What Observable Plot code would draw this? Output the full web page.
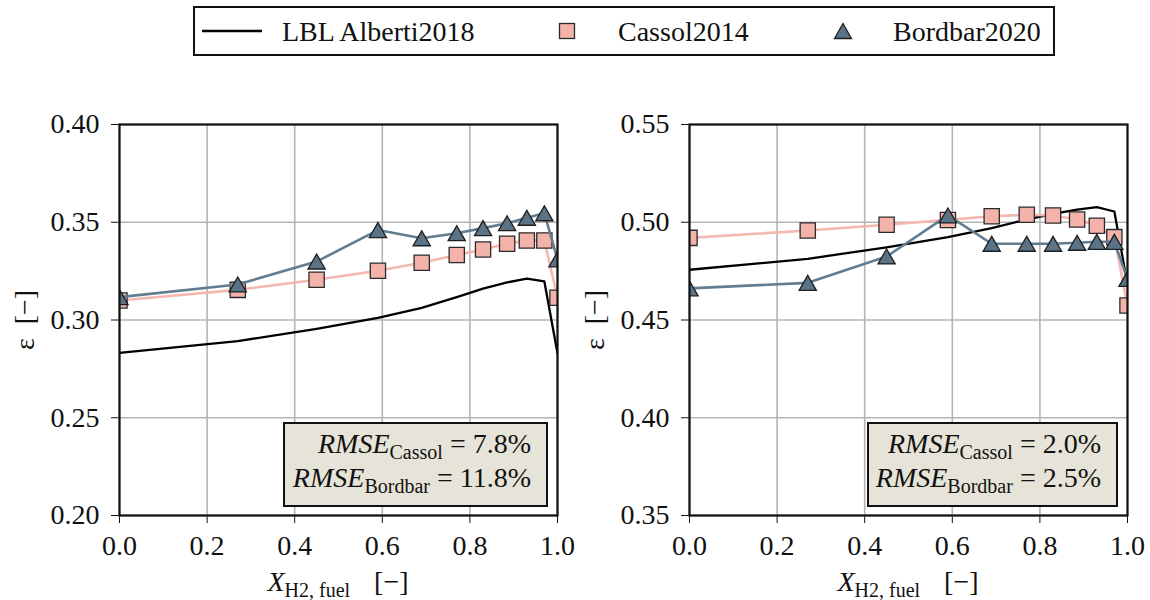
<!DOCTYPE html>
<html><head><meta charset="utf-8">
<script src="https://cdn.jsdelivr.net/npm/d3@7"></script>
<script src="https://cdn.jsdelivr.net/npm/@observablehq/plot@0.6"></script>
<style>
body{margin:0;font-family:"Liberation Serif","FreeSerif","STIX Two Text","Tinos","Times New Roman",serif;}
</style></head>
<body>
<script>
// ---- data ----
const xH2 = [0, 0.27, 0.45, 0.59, 0.69, 0.77, 0.83, 0.885, 0.93, 0.97, 1.0];
const lblLeft     = [0.2832, 0.2892, 0.2955, 0.3011, 0.3062, 0.3117, 0.3160, 0.3192, 0.3212, 0.3197, 0.2830];
const cassolLeft  = [0.3100, 0.3154, 0.3206, 0.3252, 0.3293, 0.3332, 0.3361, 0.3390, 0.3407, 0.3407, 0.3114];
const bordbarLeft = [0.3117, 0.3182, 0.3299, 0.3460, 0.3418, 0.3444, 0.3470, 0.3495, 0.3523, 0.3546, 0.3310];
const lblRight     = [0.4757, 0.4813, 0.4872, 0.4924, 0.4970, 0.5014, 0.5043, 0.5065, 0.5077, 0.5055, 0.4680];
const cassolRight  = [0.4920, 0.4958, 0.4987, 0.5012, 0.5031, 0.5038, 0.5035, 0.5014, 0.4982, 0.4924, 0.4574];
const bordbarRight = [0.4662, 0.4690, 0.4825, 0.5035, 0.4890, 0.4890, 0.4890, 0.4895, 0.4900, 0.4900, 0.4710];
const xTicks = [0, 0.2, 0.4, 0.6, 0.8, 1.0];
const yTicksLeft  = [0.20, 0.25, 0.30, 0.35, 0.40];
const yTicksRight = [0.35, 0.40, 0.45, 0.50, 0.55];
const seriesNames = ["LBL Alberti2018", "Cassol2014", "Bordbar2020"];
const rmseLeft  = ["7.8%", "11.8%"];
const rmseRight = ["2.0%", "2.5%"];

const C_LINE = "#f5b8b0", C_FILL = "#f3b3aa", B_LINE = "#627c90", B_FILL = "#5a7387";
const FF = '"Liberation Serif", "FreeSerif", "STIX Two Text", "Tinos", "Times New Roman", serif';

function rows(lbl, cas, bor) {
  return xH2.map((x, i) => ({x, lbl: lbl[i], cas: cas[i], bor: bor[i]}));
}

function makePlot(data, yTicks, ml, mr) {
  const svg = Plot.plot({
    width: 575, height: 530,
    marginLeft: ml, marginRight: mr, marginTop: 54, marginBottom: 85,
    style: {fontFamily: FF, fontSize: "28px", color: "#111", background: "transparent"},
    x: {domain: [0, 1], ticks: xTicks, tickFormat: d3.format(".1f"), tickSize: 8, tickPadding: 12, label: null},
    y: {domain: [yTicks[0], yTicks[yTicks.length - 1]], ticks: yTicks, tickFormat: d3.format(".2f"), tickSize: 8, tickPadding: 12, label: null},
    marks: [
      Plot.ruleX(xTicks, {stroke: "#b4b4b4", strokeWidth: 1.6}),
      Plot.ruleY(yTicks, {stroke: "#b4b4b4", strokeWidth: 1.6}),
      Plot.line(data, {x: "x", y: "lbl", stroke: "#000", strokeWidth: 2.3, clip: true}),
      Plot.line(data, {x: "x", y: "cas", stroke: C_LINE, strokeWidth: 2.6, clip: true}),
      Plot.dot(data, {x: "x", y: "cas", symbol: "square", r: 8.6, fill: C_FILL, stroke: "#2a2a2a", strokeWidth: 1.3, clip: true}),
      Plot.line(data, {x: "x", y: "bor", stroke: B_LINE, strokeWidth: 2.6, clip: true}),
      Plot.dot(data, {x: "x", y: "bor", symbol: "triangle", r: 6.4, dy: 2.5, fill: B_FILL, stroke: "#1e1e1e", strokeWidth: 1.3, clip: true}),
      Plot.frame({stroke: "#111", strokeWidth: 2.2})
    ]
  });
  const s = d3.select(svg);
  const cx = ml + (575 - ml - mr) / 2;
  const t = s.append("text").attr("x", cx).attr("y", 521).attr("text-anchor", "middle")
    .attr("font-size", 28).attr("fill", "#111");
  t.append("tspan").attr("font-style", "italic").text("X");
  t.append("tspan").attr("font-size", 20).attr("dy", 6).text("H2, fuel");
  t.append("tspan").attr("dy", -6).attr("dx", 24).text("[−]");
  s.append("text").attr("transform", `translate(${ml - 85},250) rotate(-90)`)
    .attr("text-anchor", "middle").attr("font-size", 28).attr("fill", "#111")
    .text("ε\u2002[−]");
  s.selectAll("text").style("font-family", FF);
  return svg;
}

function place(el, x, y) {
  el.style.position = "absolute"; el.style.left = x + "px"; el.style.top = y + "px";
  document.body.appendChild(el); return el;
}

const left = makePlot(rows(lblLeft, cassolLeft, bordbarLeft), yTicksLeft, 119, 18);
place(left, 0, 70);
const right = makePlot(rows(lblRight, cassolRight, bordbarRight), yTicksRight, 114, 23);
place(right, 575, 70);

// annotation boxes
function box(leftPx, width, vals) {
  const d = document.createElement("div");
  d.style.cssText = `width:${width}px;height:85px;box-sizing:border-box;background:#e6e4d8;border:2.5px solid #111;text-align:right;padding-right:15px;padding-top:3px;font-size:28px;line-height:34px;white-space:nowrap;color:#111;font-family:${FF};`;
  const sub = `font-size:20px;vertical-align:-6px;line-height:0;font-family:${FF.replace(/"/g, "'")};`;
  const ff = `font-family:${FF.replace(/"/g, "'")};`;
  d.innerHTML = `<span style="${ff}"><i style="${ff}">RMSE</i><sub style="${sub}">Cassol</sub> = ${vals[0]}</span><br><span style="${ff}"><i style="${ff}">RMSE</i><sub style="${sub}">Bordbar</sub> = ${vals[1]}</span>`;
  place(d, leftPx, 422);
}
box(283, 265, rmseLeft);
box(867, 251, rmseRight);

// legend
const lg = document.createElement("div");
lg.style.cssText = "width:862px;height:50px;box-sizing:border-box;border:2.5px solid #111;";
place(lg, 193, 6);
function lgText(txt, x) {
  const e = document.createElement("span");
  e.style.cssText = `font-size:28px;line-height:28px;white-space:nowrap;color:#111;font-family:${FF};`;
  e.textContent = txt; place(e, x, 18);
}
function lgSym(html, x, y) {
  const e = document.createElement("div"); e.style.lineHeight = "0"; e.innerHTML = html; place(e, x, y);
}
lgSym(`<svg width="62" height="10"><line x1="1" y1="5" x2="61" y2="5" stroke="#000" stroke-width="2.5"/></svg>`, 201, 26);
lgText(seriesNames[0], 282);
lgSym(`<svg width="18" height="18"><rect x="1.5" y="1.5" width="15" height="15" fill="${C_FILL}" stroke="#2a2a2a" stroke-width="1.3"/></svg>`, 558, 22);
lgText(seriesNames[1], 618);
lgSym(`<svg width="20" height="18"><path d="M10,1.5 L18.5,16.5 L1.5,16.5 Z" fill="${B_FILL}" stroke="#1e1e1e" stroke-width="1.3"/></svg>`, 833, 22);
lgText(seriesNames[2], 893);
</script>
</body></html>
